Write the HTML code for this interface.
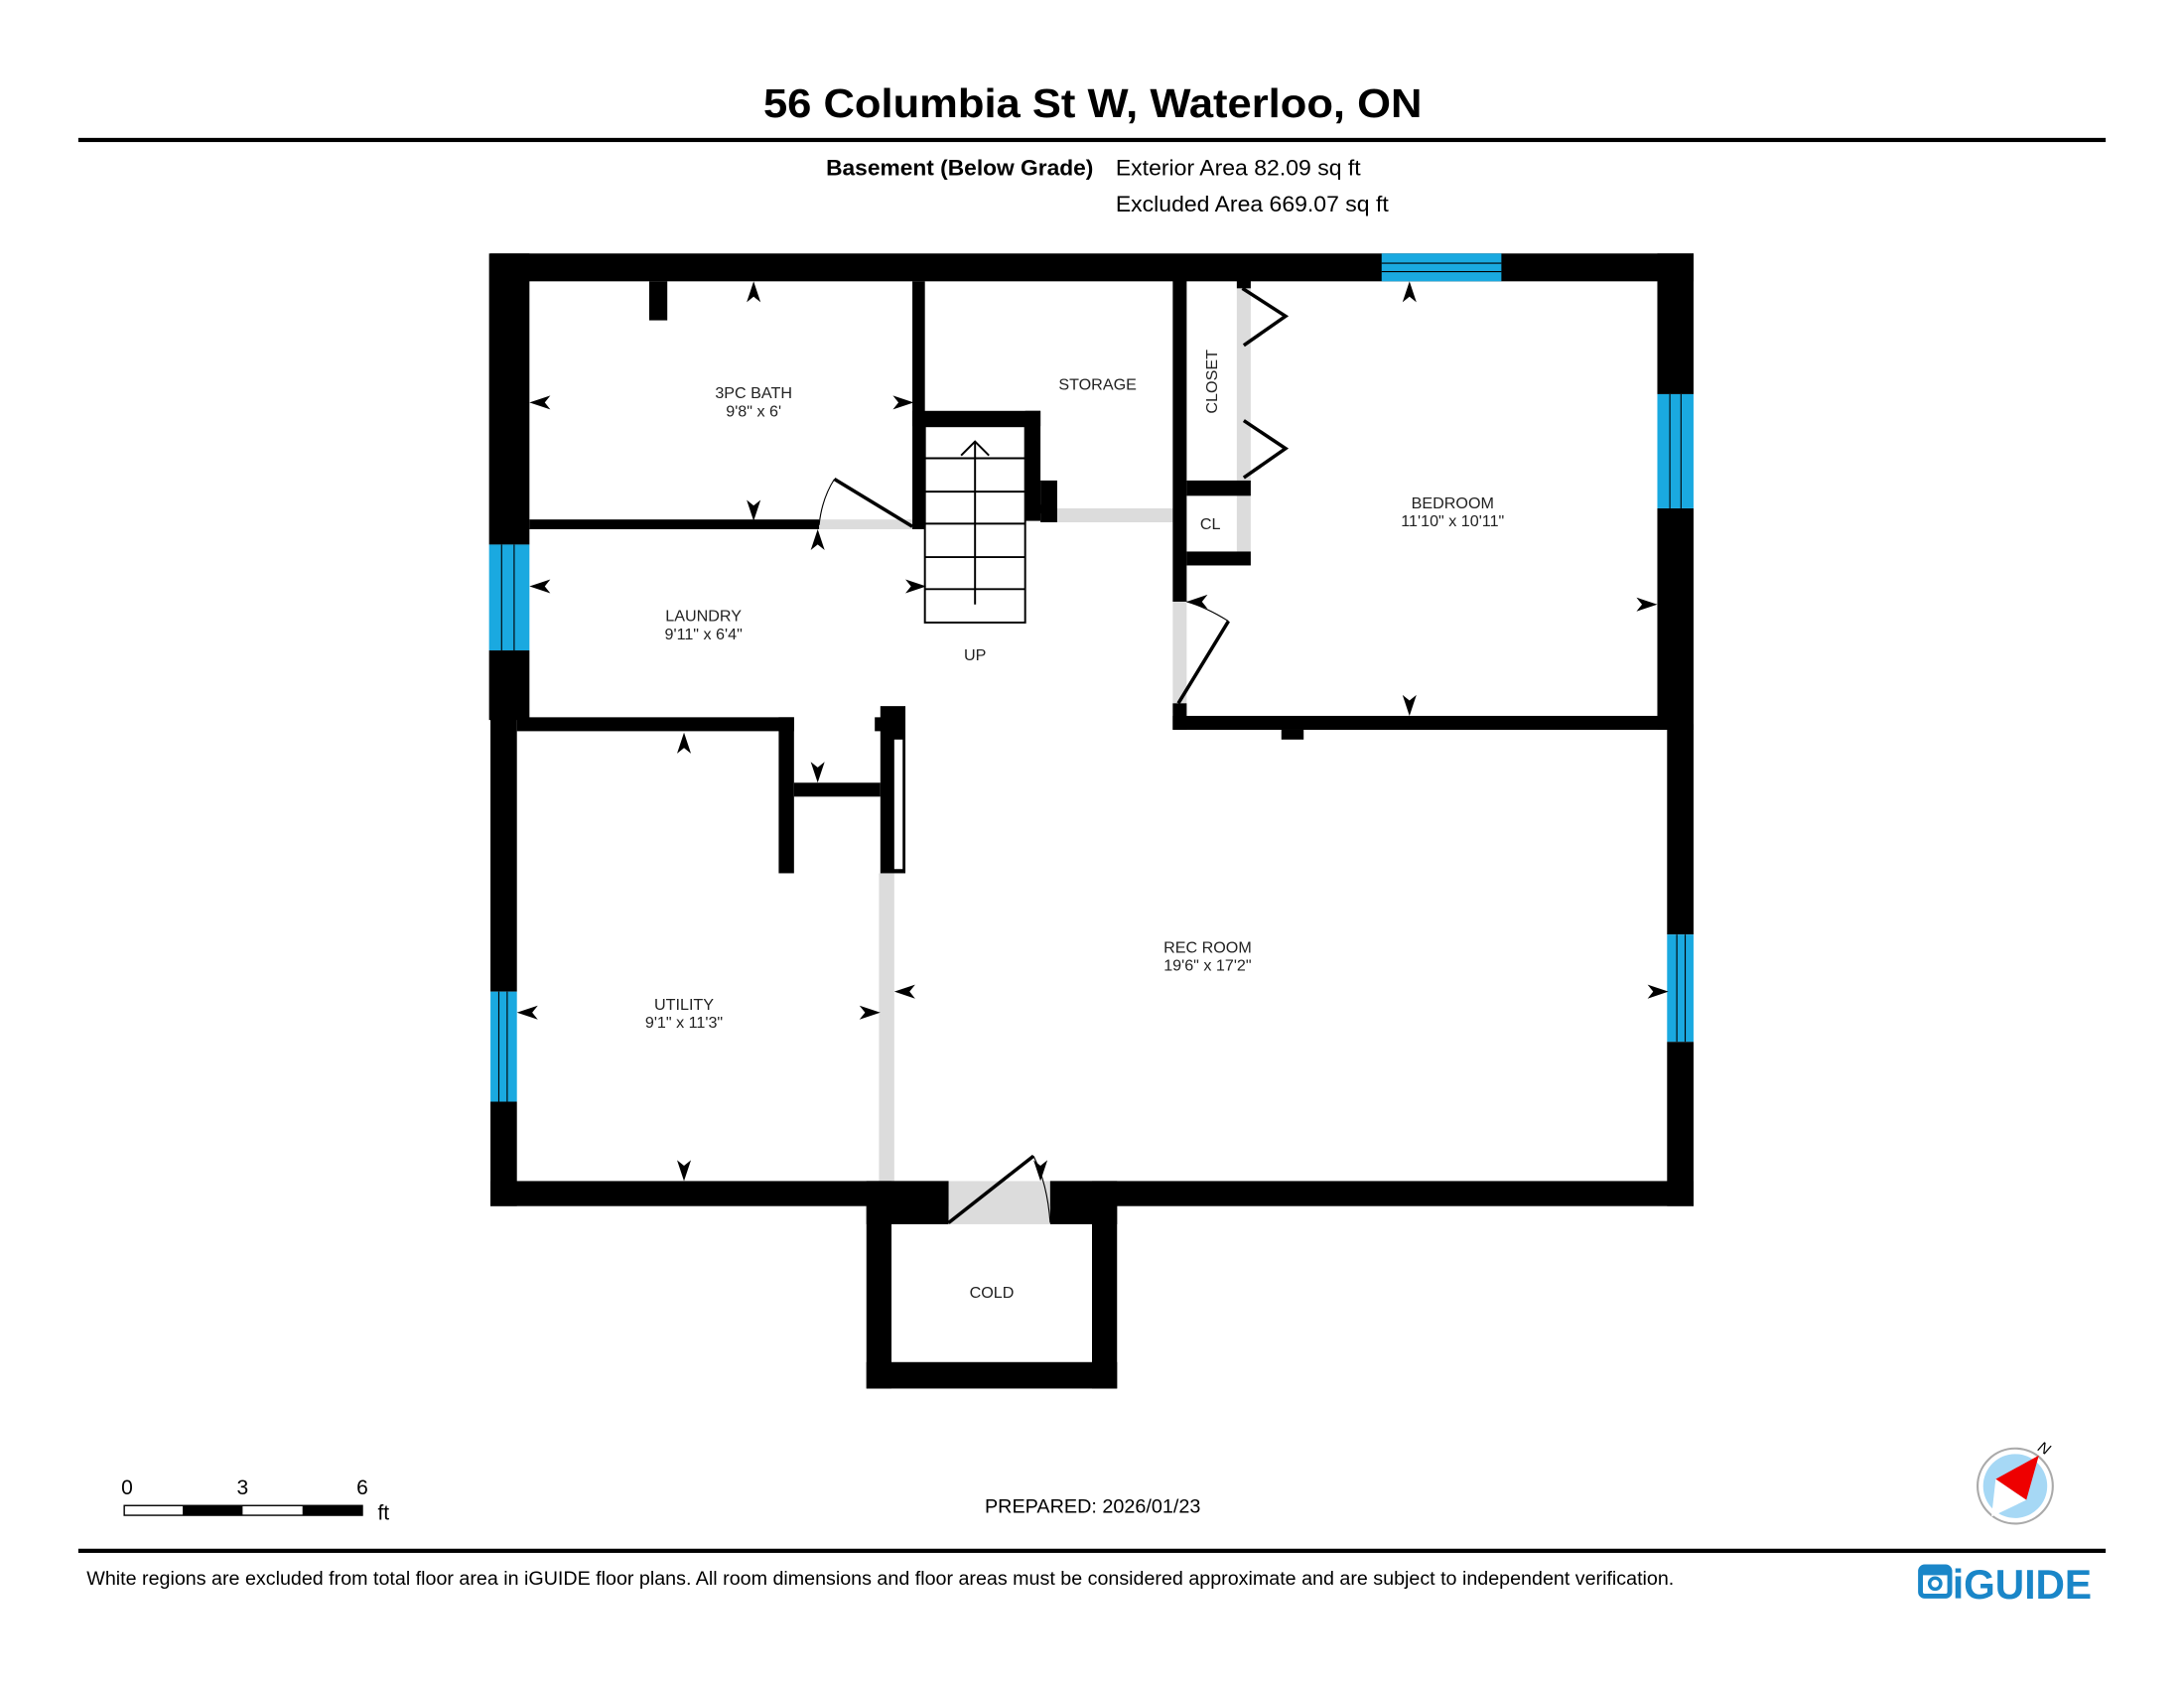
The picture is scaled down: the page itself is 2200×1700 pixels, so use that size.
<!DOCTYPE html>
<html><head><meta charset="utf-8"><style>
html,body{margin:0;padding:0;background:#fff;}
svg{display:block;}
text{font-family:"Liberation Sans",Arial,sans-serif;}
</style></head><body>
<svg width="2200" height="1700" viewBox="0 0 1568 1212" xmlns="http://www.w3.org/2000/svg">
<defs>
<path id="a" d="M0,0 L5,15 L0,11 L-5,15 Z" fill="#000"/>
</defs>
<rect width="1568" height="1212" fill="#fff"/>
<text x="548" y="84" font-size="29" font-weight="bold" textLength="473" lengthAdjust="spacingAndGlyphs">56 Columbia St W, Waterloo, ON</text>
<rect x="56" y="99" width="1456" height="3" fill="#000"/>
<text x="593" y="126" font-size="16" font-weight="bold" textLength="192" lengthAdjust="spacingAndGlyphs">Basement (Below Grade)</text>
<text x="801" y="126" font-size="16" textLength="176" lengthAdjust="spacingAndGlyphs">Exterior Area 82.09 sq ft</text>
<text x="801" y="152" font-size="16" textLength="196" lengthAdjust="spacingAndGlyphs">Excluded Area 669.07 sq ft</text>

<g fill="#dcdcdc">
<rect x="588" y="373" width="67" height="7"/>
<rect x="759" y="365" width="83" height="10"/>
<rect x="888" y="201" width="10" height="144"/>
<rect x="888" y="356" width="10" height="40"/>
<rect x="842" y="432" width="10" height="80"/>
<rect x="631" y="627" width="11" height="221"/>
<rect x="681" y="848" width="73" height="31"/>
</g>

<g fill="#000">
<rect x="352" y="182" width="864" height="20"/>
<rect x="351" y="182" width="29" height="209"/>
<rect x="351" y="467" width="29" height="50"/>
<rect x="352" y="515" width="19" height="197"/>
<rect x="352" y="791" width="19" height="75"/>
<rect x="1190" y="182" width="26" height="101"/>
<rect x="1190" y="365" width="26" height="159"/>
<rect x="1197" y="520" width="19" height="151"/>
<rect x="1197" y="748" width="19" height="118"/>
<rect x="352" y="848" width="329" height="18"/>
<rect x="754" y="848" width="462" height="18"/>
<rect x="622" y="848" width="18" height="149"/>
<rect x="784" y="848" width="18" height="149"/>
<rect x="622" y="978" width="180" height="19"/>
<rect x="622" y="848" width="59" height="31"/>
<rect x="754" y="848" width="48" height="31"/>
<rect x="466" y="202" width="13" height="28"/>
<rect x="655" y="202" width="9" height="178"/>
<rect x="380" y="373" width="208" height="7"/>
<rect x="655" y="295" width="92" height="11"/>
<rect x="736" y="295" width="11" height="79"/>
<rect x="747" y="345" width="12" height="30"/>
<rect x="842" y="201" width="10" height="231"/>
<rect x="842" y="505" width="10" height="19"/>
<rect x="852" y="345" width="46" height="11"/>
<rect x="852" y="396" width="46" height="10"/>
<rect x="888" y="201" width="10" height="6"/>
<rect x="842" y="514" width="355" height="10"/>
<rect x="920" y="524" width="16" height="7"/>
<rect x="371" y="515" width="199" height="10"/>
<rect x="559" y="515" width="11" height="112"/>
<rect x="570" y="562" width="62" height="10"/>
<rect x="632" y="507" width="18" height="120"/>
<rect x="628" y="515" width="6" height="10"/>
</g>
<rect x="642" y="531" width="6" height="93" fill="#fff"/>

<g fill="#1aa9e0" stroke="#000" stroke-width="0.8">
<rect x="992" y="182" width="86" height="20" stroke="none"/>
<line x1="992" y1="189" x2="1078" y2="189"/><line x1="992" y1="195" x2="1078" y2="195"/>
<rect x="1190" y="283" width="26" height="82" stroke="none"/>
<line x1="1199" y1="283" x2="1199" y2="365"/><line x1="1207" y1="283" x2="1207" y2="365"/>
<rect x="1197" y="671" width="19" height="77" stroke="none"/>
<line x1="1204" y1="671" x2="1204" y2="748"/><line x1="1210" y1="671" x2="1210" y2="748"/>
<rect x="351" y="391" width="29" height="76" stroke="none"/>
<line x1="360" y1="391" x2="360" y2="467"/><line x1="369" y1="391" x2="369" y2="467"/>
<rect x="352" y="712" width="19" height="79" stroke="none"/>
<line x1="358" y1="712" x2="358" y2="791"/><line x1="364" y1="712" x2="364" y2="791"/>
</g>

<g fill="none" stroke="#000" stroke-width="1.4">
<rect x="664" y="306" width="72" height="141"/>
<line x1="664" y1="329" x2="736" y2="329"/>
<line x1="664" y1="353" x2="736" y2="353"/>
<line x1="664" y1="376" x2="736" y2="376"/>
<line x1="664" y1="400" x2="736" y2="400"/>
<line x1="664" y1="423" x2="736" y2="423"/>
<line x1="700" y1="317" x2="700" y2="434"/>
<polyline points="690,327 700,317 710,327"/>
</g>

<g fill="none" stroke="#000">
<line x1="599" y1="344" x2="655" y2="378" stroke-width="2.5"/>
<path d="M599,344 Q590,358 588,377" stroke-width="0.8"/>
<polyline points="892,207 923,227 893,248" stroke-width="2.5"/>
<polyline points="893,302 923,322 893,343" stroke-width="2.5"/>
<line x1="846" y1="505" x2="882" y2="446" stroke-width="2.5"/>
<path d="M882,446 Q866,436 852,432" stroke-width="0.8"/>
<line x1="681" y1="878" x2="742" y2="830" stroke-width="2.5"/>
<path d="M742,830 Q752,850 754,878" stroke-width="0.8"/>
</g>

<use href="#a" transform="translate(541,202)"/>
<use href="#a" transform="translate(541,374) rotate(180)"/>
<use href="#a" transform="translate(380,289) rotate(-90)"/>
<use href="#a" transform="translate(656,289) rotate(90)"/>
<use href="#a" transform="translate(380,421) rotate(-90)"/>
<use href="#a" transform="translate(665,421) rotate(90)"/>
<use href="#a" transform="translate(587,380)"/>
<use href="#a" transform="translate(587,562) rotate(180)"/>
<use href="#a" transform="translate(745,356)"/>
<use href="#a" transform="translate(491,526)"/>
<use href="#a" transform="translate(491,848) rotate(180)"/>
<use href="#a" transform="translate(371,727) rotate(-90)"/>
<use href="#a" transform="translate(632,727) rotate(90)"/>
<use href="#a" transform="translate(642,712) rotate(-90)"/>
<use href="#a" transform="translate(1198,712) rotate(90)"/>
<use href="#a" transform="translate(1012,202)"/>
<use href="#a" transform="translate(1012,514) rotate(180)"/>
<use href="#a" transform="translate(1190,434) rotate(90)"/>
<use href="#a" transform="translate(852,432) rotate(-90)"/>
<use href="#a" transform="translate(747,848) rotate(180)"/>

<g font-size="11.5" fill="#222" text-anchor="middle">
<text x="541" y="286">3PC BATH</text><text x="541" y="299">9'8" x 6'</text>
<text x="788" y="280">STORAGE</text>
<text transform="translate(874,274) rotate(-90)">CLOSET</text>
<text x="869" y="380">CL</text>
<text x="1043" y="365">BEDROOM</text><text x="1043" y="378">11'10" x 10'11"</text>
<text x="505" y="446">LAUNDRY</text><text x="505" y="459">9'11" x 6'4"</text>
<text x="700" y="474">UP</text>
<text x="867" y="684">REC ROOM</text><text x="867" y="697">19'6" x 17'2"</text>
<text x="491" y="725">UTILITY</text><text x="491" y="738">9'1" x 11'3"</text>
<text x="712" y="932">COLD</text>
</g>

<g font-size="15">
<text x="91" y="1073" text-anchor="middle">0</text>
<text x="174" y="1073" text-anchor="middle">3</text>
<text x="260" y="1073" text-anchor="middle">6</text>
<text x="271" y="1091">ft</text>
</g>
<rect x="89" y="1081" width="171" height="7" fill="#fff" stroke="#000" stroke-width="1"/>
<rect x="131" y="1081" width="43" height="7" fill="#000"/>
<rect x="217" y="1081" width="43" height="7" fill="#000"/>
<text x="707" y="1086" font-size="14" textLength="155" lengthAdjust="spacingAndGlyphs">PREPARED: 2026/01/23</text>

<circle cx="1447" cy="1067" r="27" fill="#fff" stroke="#aaa" stroke-width="1.5"/>
<circle cx="1447" cy="1067" r="23" fill="#a6d8f5"/>
<polygon points="1464,1045 1455,1077 1433,1062" fill="#e00"/>
<polygon points="1433,1062 1455,1077 1430,1089" fill="#fff"/>
<text x="1466" y="1043" font-size="11" font-style="italic" text-anchor="middle" transform="rotate(30 1466 1043)">N</text>

<rect x="56" y="1112" width="1456" height="3" fill="#000"/>
<text x="62" y="1138" font-size="13.5" textLength="1140" lengthAdjust="spacingAndGlyphs">White regions are excluded from total floor area in iGUIDE floor plans. All room dimensions and floor areas must be considered approximate and are subject to independent verification.</text>

<g>
<rect x="1379" y="1125" width="21" height="21" rx="3" fill="none" stroke="#1a86c8" stroke-width="3.5"/>
<rect x="1379" y="1125" width="21" height="6" fill="#1a86c8"/>
<circle cx="1389.5" cy="1137" r="4" fill="none" stroke="#1a86c8" stroke-width="2.5"/>
<text x="1402" y="1148" font-size="30" font-weight="bold" fill="#1a86c8" textLength="100" lengthAdjust="spacingAndGlyphs">iGUIDE</text>
</g>
</svg>
</body></html>
